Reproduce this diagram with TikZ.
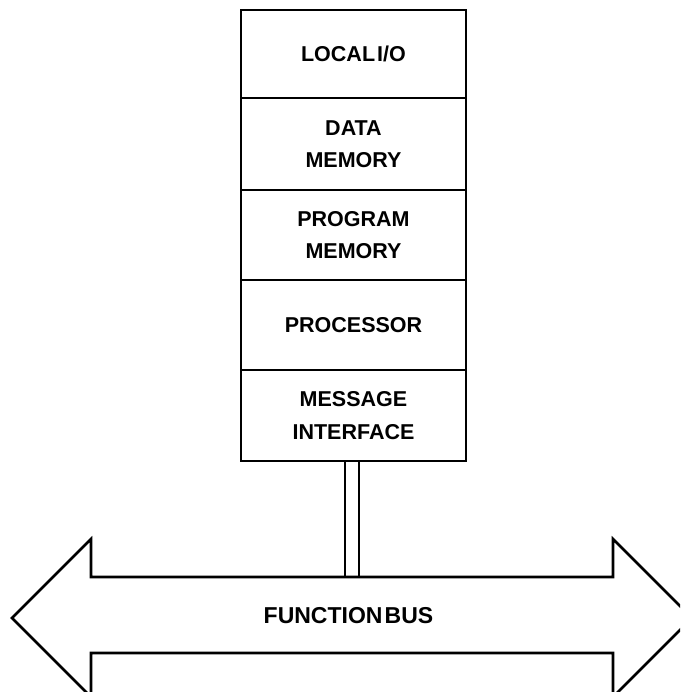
\documentclass[tikz,border=0pt]{standalone}
\usepackage{fontspec}
\setmainfont[WordSpace=0.35]{Liberation Sans}
\begin{document}
\begin{tikzpicture}[x=1pt,y=-1pt,
  box/.style={draw, line width=2pt, minimum width=225pt, inner sep=0pt, align=center,
    font=\fontsize{21.5}{32.5}\selectfont\bfseries},
  busline/.style={line width=2.6pt, line join=miter},
  stem/.style={line width=2pt},
  label/.style={font=\fontsize{23}{32}\selectfont\bfseries, inner sep=0pt}]
\useasboundingbox (0,0) rectangle (680,692);
\clip (0,0) rectangle (680,692);
\node[box, minimum height=88pt] (lio) at (353.5,54) {LOCAL I/O};
\node[box, minimum height=92pt] (dm) at (353.5,144) {DATA\\MEMORY};
\node[box, minimum height=90pt] (pm) at (353.5,235) {PROGRAM\\MEMORY};
\node[box, minimum height=90pt] (proc) at (353.5,325) {PROCESSOR};
\node[box, minimum height=91pt] (msg) at (353.5,415.5) {MESSAGE\\INTERFACE};
\draw[busline] (12,618) -- (91,539) -- (91,577) -- (613,577) -- (613,539) -- (692,618)
  -- (613,697) -- (613,653) -- (91,653) -- (91,697) -- cycle;
\node[label] (bus) at (348.5,616) {FUNCTION BUS};
\coordinate (s1) at (345,577);
\coordinate (s2) at (359,577);
\draw[stem] (msg.south -| s1) -- (s1);
\draw[stem] (msg.south -| s2) -- (s2);
\end{tikzpicture}
\end{document}
